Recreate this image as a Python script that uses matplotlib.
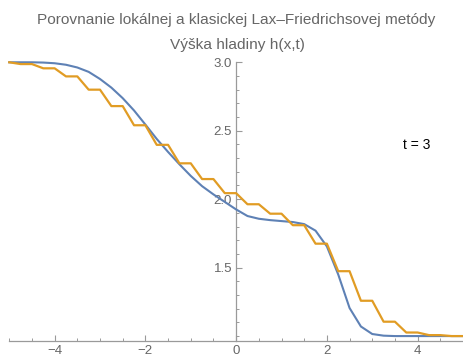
import numpy as np
import matplotlib
matplotlib.use("Agg")
import matplotlib.pyplot as plt
from matplotlib.ticker import MultipleLocator

plt.rcParams['font.family'] = ['Liberation Sans', 'DejaVu Sans']

# grid of the two schemes, dx = 0.25
x = np.arange(-5, 5.001, 0.25)

# local Lax-Friedrichs
h_local = [3.0, 3.0, 3.0, 2.998, 2.993, 2.982, 2.962, 2.93, 2.878, 2.815,
           2.738, 2.648, 2.545, 2.44, 2.345, 2.255, 2.17, 2.095, 2.035, 1.98,
           1.925, 1.877, 1.857, 1.847, 1.84, 1.833, 1.818, 1.77, 1.655, 1.45,
           1.205, 1.07, 1.015, 1.003, 1.0, 1.0, 1.0, 1.0, 1.0, 1.0, 1.0]

# classical Lax-Friedrichs (odd/even staircase)
h_classic = [3.0, 2.987, 2.987, 2.956, 2.956, 2.897, 2.897, 2.80, 2.80, 2.68,
             2.68, 2.54, 2.54, 2.397, 2.397, 2.262, 2.262, 2.147, 2.147, 2.044,
             2.044, 1.963, 1.963, 1.894, 1.894, 1.81, 1.81, 1.675, 1.675, 1.474,
             1.474, 1.258, 1.258, 1.105, 1.105, 1.026, 1.026, 1.007, 1.007, 1.0, 1.0]

t_label = "t = 3"
title1 = "Porovnanie lokálnej a klasickej Lax\u2013Friedrichsovej metódy"
title2 = "Výška hladiny h(x,t)"

axis_col = '#9a9a9a'
text_col = '#666666'

fig = plt.figure(figsize=(4.63, 3.63), dpi=100)
ax = fig.add_axes([0.020, 0.0606, 0.980, 0.7678])

ax.plot(x, h_local, color='#5E81B5', lw=1.5, clip_on=False, zorder=3)
ax.plot(x, h_classic, color='#E19C24', lw=1.6, clip_on=False, zorder=4)

ax.set_xlim(-5, 5)
ax.set_ylim(0.964, 3.0)

# Mathematica-like axes: y axis through x = 0, x axis at the bottom
ax.spines['left'].set_position(('data', 0))
ax.spines['top'].set_visible(False)
ax.spines['right'].set_visible(False)
for s in ('left', 'bottom'):
    ax.spines[s].set_color(axis_col)
    ax.spines[s].set_linewidth(0.9)

ax.xaxis.set_major_locator(MultipleLocator(2))
ax.xaxis.set_minor_locator(MultipleLocator(0.5))
ax.yaxis.set_major_locator(MultipleLocator(0.5))
ax.yaxis.set_minor_locator(MultipleLocator(0.1))
ax.set_yticks([1.5, 2.0, 2.5, 3.0])

ax.tick_params(which='major', direction='in', length=4.5, width=0.8,
               color=axis_col, labelcolor=text_col, labelsize=9.5, pad=3)
ax.tick_params(which='minor', direction='in', length=2.5, width=0.7,
               color=axis_col)
ax.xaxis.set_major_formatter(matplotlib.ticker.FuncFormatter(
    lambda v, p: f"{v:.0f}".replace('-', '\u2212')))
ax.yaxis.set_major_formatter(matplotlib.ticker.FormatStrFormatter('%.1f'))

ax.text(3.98, 2.395, t_label, fontsize=10, color='black', ha='center', va='center')

fig.text(0.510, 0.945, title1, fontsize=11.1, color=text_col, ha='center', va='center')
fig.text(0.512, 0.876, title2, fontsize=11.1, color=text_col, ha='center', va='center')

fig.savefig('out.png', dpi=100)
